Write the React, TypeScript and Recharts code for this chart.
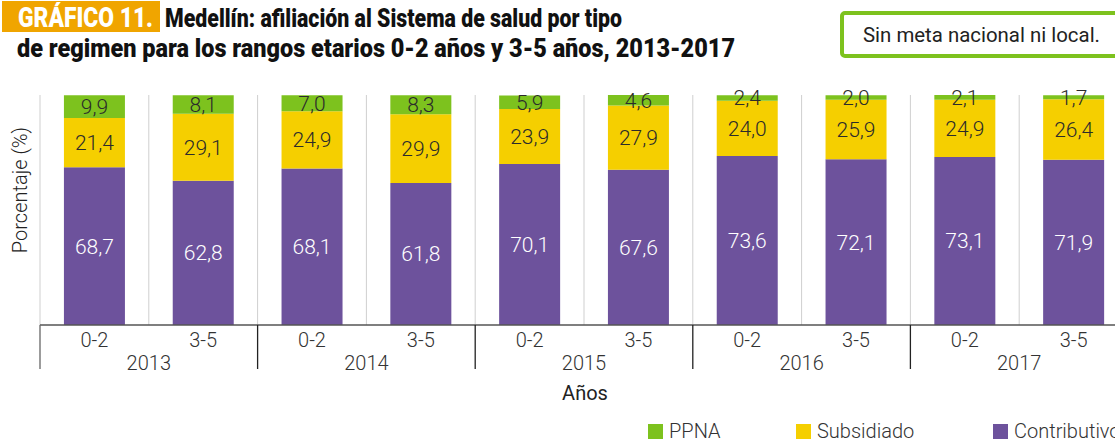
import React from 'react'
import { BarChart, Bar, XAxis, YAxis, CartesianGrid, LabelList, Legend } from 'recharts'

const years = ['2013', '2014', '2015', '2016', '2017']
const rangos = ['0-2', '3-5']
const contributivo = [68.7, 62.8, 68.1, 61.8, 70.1, 67.6, 73.6, 72.1, 73.1, 71.9]
const subsidiado = [21.4, 29.1, 24.9, 29.9, 23.9, 27.9, 24.0, 25.9, 24.9, 26.4]
const ppna = [9.9, 8.1, 7.0, 8.3, 5.9, 4.6, 2.4, 2.0, 2.1, 1.7]

const data = contributivo.map((c, i) => ({
  id: `${years[Math.floor(i / 2)]}-${rangos[i % 2]}`,
  year: years[Math.floor(i / 2)],
  rango: rangos[i % 2],
  Contributivo: c,
  Subsidiado: subsidiado[i],
  PPNA: ppna[i]
}))

const GREEN = '#7dc21e'
const YELLOW = '#f5cf00'
const PURPLE = '#6d529c'
const FONT = 'Roboto, "Noto Sans", sans-serif'

const CHART_W = 1130
const CHART_H = 442
const X_AXIS_H = 60
const M = { top: 95, right: 2, left: 40, bottom: 117 - X_AXIS_H }
const AXIS_Y = CHART_H - M.bottom - X_AXIS_H
const BAND = (CHART_W - M.left - M.right) / data.length

const fmt = (v: any) => Number(v).toFixed(1).replace('.', ',')

const AgeTick = (props: any) => {
  const { x, index } = props
  const d = data[index]
  if (!d) return null
  const first = index % 2 === 0
  return (
    <g>
      <text x={x} y={AXIS_Y + 22} textAnchor="middle" fontFamily={FONT} fontWeight={300} fontSize={20} fill="#333">
        {d.rango}
      </text>
      {first && (
        <>
          <line x1={x - BAND / 2} x2={x - BAND / 2} y1={AXIS_Y} y2={AXIS_Y + 44} stroke={index === 0 ? '#666' : '#222'} strokeWidth={1.3} />
          <text x={x + BAND / 2} y={AXIS_Y + 45} textAnchor="middle" fontFamily={FONT} fontWeight={300} fontSize={20} fill="#333">
            {d.year}
          </text>
        </>
      )}
    </g>
  )
}

const LegendContent = () => {
  const items = [
    { name: 'PPNA', color: GREEN, x: 648 },
    { name: 'Subsidiado', color: YELLOW, x: 796 },
    { name: 'Contributivo', color: PURPLE, x: 993 }
  ]
  return (
    <div style={{ position: 'relative', height: 24 }}>
      {items.map((it) => (
        <div key={it.name} style={{ position: 'absolute', left: it.x, top: 0, display: 'flex', alignItems: 'center', whiteSpace: 'nowrap' }}>
          <span style={{ width: 15, height: 15, background: it.color, display: 'inline-block', marginRight: 6 }} />
          <span style={{ fontFamily: FONT, fontWeight: 300, fontSize: 20, color: '#333', lineHeight: '24px' }}>{it.name}</span>
        </div>
      ))}
    </div>
  )
}

export default function App() {
  const gridX = Array.from({ length: data.length + 1 }, (_, i) => M.left + i * BAND)
  return (
    <div style={{ position: 'absolute', left: 0, top: 0, width: 1115, height: 442, overflow: 'hidden', background: '#fff' }}>
      <BarChart width={CHART_W} height={CHART_H} data={data} margin={M} barCategoryGap="22%">
        <CartesianGrid horizontal={false} stroke="#cfcfcf" verticalCoordinatesGenerator={() => gridX} />
        <XAxis
          dataKey="id"
          interval={0}
          tickLine={false}
          axisLine={{ stroke: '#555', strokeWidth: 1.5 }}
          tick={<AgeTick />}
          height={X_AXIS_H}
        />
        <YAxis hide domain={[0, 100]} />
        <Legend
          verticalAlign="middle"
          align="center"
          layout="horizontal"
          wrapperStyle={{ top: 419, left: 0, width: 1115 }}
          content={<LegendContent />}
        />
        <Bar dataKey="Contributivo" stackId="a" fill={PURPLE} isAnimationActive={false}>
          <LabelList dataKey="Contributivo" position="center" formatter={fmt} fill="#fff" fontFamily={FONT} fontWeight={300} fontSize={21} />
        </Bar>
        <Bar dataKey="Subsidiado" stackId="a" fill={YELLOW} isAnimationActive={false}>
          <LabelList dataKey="Subsidiado" position="center" formatter={fmt} fill="#2b2b2b" fontFamily={FONT} fontWeight={300} fontSize={21} />
        </Bar>
        <Bar dataKey="PPNA" stackId="a" fill={GREEN} isAnimationActive={false}>
          <LabelList dataKey="PPNA" position="center" formatter={fmt} fill="#2b2b2b" fontFamily={FONT} fontWeight={300} fontSize={21} />
        </Bar>
      </BarChart>
      <svg width={1115} height={442} style={{ position: 'absolute', left: 0, top: 0, pointerEvents: 'none' }}>
        <rect x={2} y={1} width={158} height={31} fill="#f0a500" />
        <text x={18} y={27} fontFamily={FONT} fontWeight={900} fontSize={27} fill="#fff" textLength={135} lengthAdjust="spacingAndGlyphs">
          GRÁFICO 11.
        </text>
        <text x={165} y={27} fontFamily={FONT} fontWeight={900} fontSize={26} fill="#111" textLength={457} lengthAdjust="spacingAndGlyphs">
          Medellín: afiliación al Sistema de salud por tipo
        </text>
        <text x={17} y={57} fontFamily={FONT} fontWeight={900} fontSize={26} fill="#111" textLength={718} lengthAdjust="spacingAndGlyphs">
          de regimen para los rangos etarios 0-2 años y 3-5 años, 2013-2017
        </text>
        <rect x={842} y={13} width={290} height={43} rx={3} fill="#fff" stroke={GREEN} strokeWidth={4} />
        <text x={863} y={42} fontFamily={FONT} fontWeight={400} fontSize={20} fill="#222" textLength={237} lengthAdjust="spacingAndGlyphs">
          Sin meta nacional ni local.
        </text>
        <text
          x={0}
          y={0}
          transform="translate(27,190) rotate(-90)"
          textAnchor="middle"
          fontFamily={FONT}
          fontWeight={300}
          fontSize={20}
          fill="#222"
        >
          Porcentaje (%)
        </text>
        <text x={585} y={400} textAnchor="middle" fontFamily={FONT} fontWeight={400} fontSize={20} fill="#222">
          Años
        </text>
      </svg>
    </div>
  )
}
